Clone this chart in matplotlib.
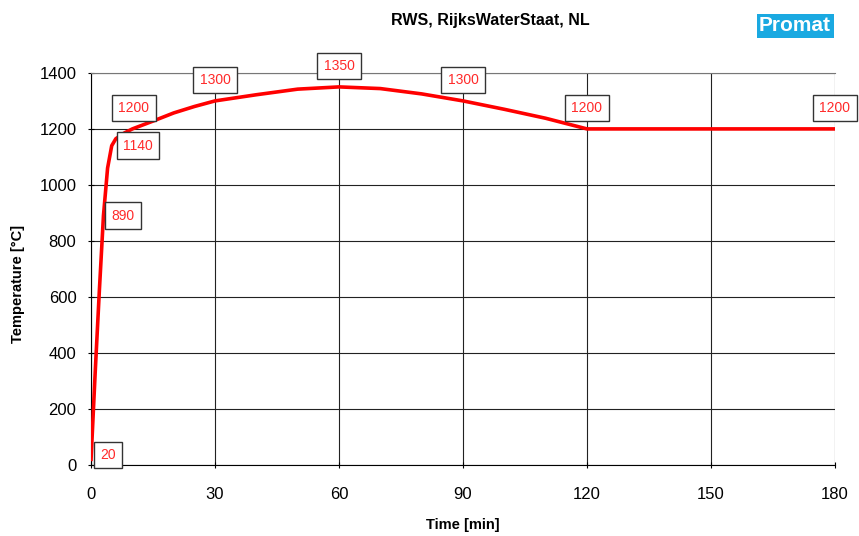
import matplotlib
matplotlib.use('agg')
import matplotlib.pyplot as plt
import numpy as np

# RWS curve
time_min = [0, 1, 2, 3, 4, 5, 6, 8, 10, 15, 20, 25, 30, 40, 50, 60, 70, 80, 90, 100, 110, 120, 150, 180]
temp_c = [20, 330, 620, 890, 1060, 1140, 1165, 1185, 1200, 1228, 1257, 1280, 1300, 1322, 1342, 1350, 1344, 1325, 1300, 1270, 1238, 1200, 1200, 1200]

# labelled points and where the label box sits (offset in points)
lab_t = [0, 3, 5, 10, 30, 60, 90, 120, 180]
lab_v = [20, 890, 1140, 1200, 1300, 1350, 1300, 1200, 1200]
lab_off = [(12, 3), (14, 0), (19, 0), (1, 15), (0, 15), (0, 15), (0, 15), (0, 15), (0, 15)]

fig = plt.figure(figsize=(8.59, 5.36), dpi=100)
ax = fig.add_axes([0.106, 0.1325, 0.866, 0.7315])

ax.plot(time_min, temp_c, color='#ff0000', linewidth=2.6, zorder=3)

for t, v, off in zip(lab_t, lab_v, lab_off):
    ax.annotate(str(v), (t, v), xytext=off, textcoords='offset points',
                ha='center', va='center', fontsize=10, color='#ff2a2a',
                family='Liberation Sans',
                bbox=dict(boxstyle='square,pad=0.45', fc='white', ec='#333333', lw=1),
                zorder=5)

ax.set_xlim(0, 180)
ax.set_ylim(0, 1400)
ax.set_xticks(np.arange(0, 181, 30))
ax.set_yticks(np.arange(0, 1401, 200))
ax.grid(True, color='#222222', linewidth=0.8)
ax.set_axisbelow(True)
ax.spines['top'].set_color('#777777')
ax.spines['right'].set_visible(False)
ax.tick_params(labelsize=12, length=5, direction='inout')
ax.tick_params(axis='x', pad=13)
ax.tick_params(axis='y', pad=8)
for lbl in ax.get_xticklabels() + ax.get_yticklabels():
    lbl.set_family('Liberation Sans')

ax.set_xlabel('Time [min]', fontsize=10.5, fontweight='bold', family='Liberation Sans')
ax.set_ylabel('Temperature [°C]', fontsize=10.5, fontweight='bold', family='Liberation Sans')
ax.xaxis.set_label_coords(0.5, -0.134)
ax.yaxis.set_label_coords(-0.089, 0.462)

fig.text(0.571, 0.962, 'RWS, RijksWaterStaat, NL', ha='center', va='center',
         fontsize=11.5, fontweight='bold', family='Liberation Sans')
fig.text(0.9255, 0.952, 'Promat', ha='center', va='center', fontsize=15,
         fontweight='bold', color='white', family='Liberation Sans',
         bbox=dict(boxstyle='square,pad=0.12', fc='#1aa9e1', ec='none'))

fig.savefig('out.png', dpi=100)
